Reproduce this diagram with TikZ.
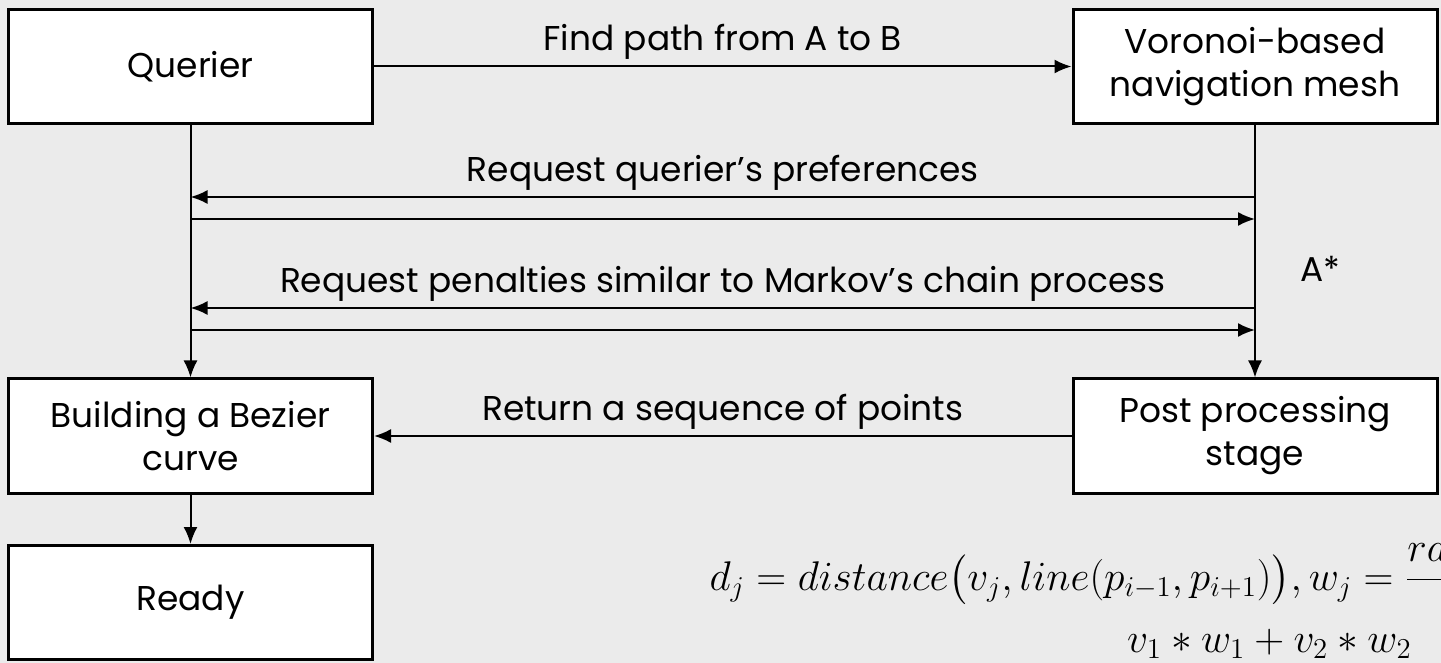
\documentclass[tikz,border=0pt]{standalone}
\usepackage{amsmath, fontspec}
\setmainfont{Poppins}
\usetikzlibrary{arrows.meta}
\definecolor{canvas}{RGB}{235,235,235}

\begin{document}
\begin{tikzpicture}[x=0.5pt, y=-0.5pt,
    box/.style={draw, line width=1.5pt, fill=white, minimum width=182pt,
        minimum height=57pt, align=center, inner sep=0pt,
        font=\fontsize{17.2}{21.5}\selectfont},
    link/.style={line width=1pt, -{Latex[length=8.5pt, width=7pt]}},
    msg/.style={midway, above, inner sep=3pt, font=\fontsize{17.2}{21.5}\selectfont}]
    \clip (0,0) rectangle (1441,663);
    \fill [canvas] (0,0) rectangle (1441,663);

    % boxes
    \node [box] (querier) at (190.5,66.5) {Querier};
    \node [box] (mesh) at (1255,66.5) {Voronoi-based\\navigation mesh};
    \node [box] (bezier) at (190.5,436) {Building a Bezier\\curve};
    \node [box] (post) at (1255,436) {Post processing\\stage};
    \node [box] (ready) at (190.5,602.5) {Ready};

    % ends of the side messages
    \coordinate (prefR) at (1255,197);
    \coordinate (prefL) at (190.5,197);
    \coordinate (ansL) at (190.5,219);
    \coordinate (ansR) at (1255,219);
    \coordinate (penR) at (1255,308);
    \coordinate (penL) at (190.5,308);
    \coordinate (retL) at (190.5,330);
    \coordinate (retR) at (1255,330);

    \draw [link] (querier) -- (mesh) node [msg] {Find path from A to B};
    \draw [link] (querier) -- (bezier);
    \draw [link] (mesh) -- (post);
    \draw [link] (prefR) -- (prefL) node [msg] {Request querier’s preferences};
    \draw [link] (ansL) -- (ansR);
    \draw [link] (penR) -- (penL) node [msg] {Request penalties similar to Markov’s chain process};
    \draw [link] (retL) -- (retR);
    \draw [link] (post) -- (bezier) node [msg] {Return a sequence of points};
    \draw [link] (bezier) -- (ready);

    \node [anchor=base west, font=\fontsize{17.2}{21.5}\selectfont] (astar) at (1293,282) {A*};

    % weights used in post processing (run off the right edge)
    \node [anchor=base east, inner sep=0pt, font=\fontsize{19.2}{23}\selectfont] (dist) at (1451,590)
        {$d_j = distance\bigl(v_j, line(p_{i-1}, p_{i+1})\bigr), w_j = \dfrac{ra}{\hphantom{ra}}$};
    \node [anchor=base east, inner sep=0pt, font=\fontsize{19.2}{23}\selectfont] (sum) at (1412,652)
        {$v_1 * w_1 + v_2 * w_2$};
\end{tikzpicture}
\end{document}
